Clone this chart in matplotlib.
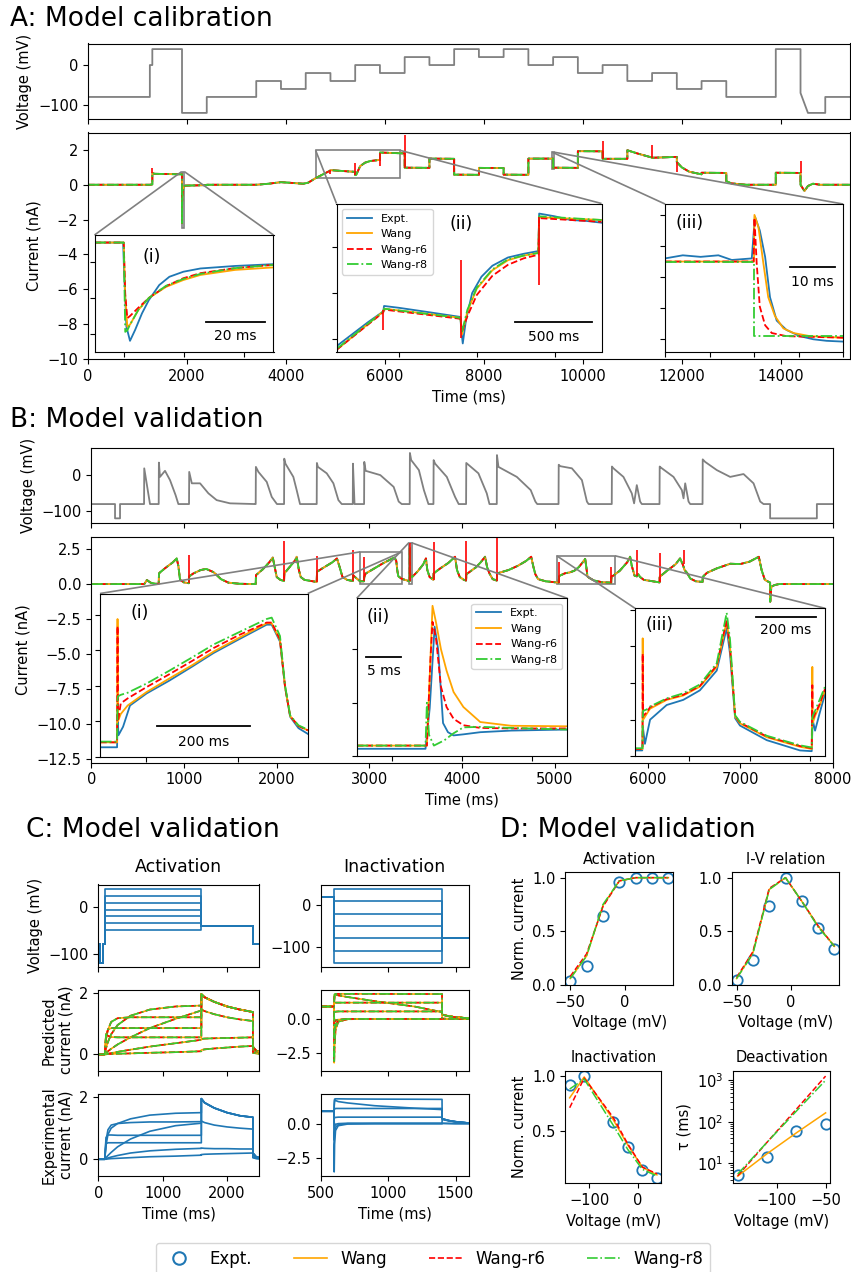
import numpy as np
import matplotlib
matplotlib.use('Agg')
import matplotlib.pyplot as plt
from matplotlib.lines import Line2D
from mpl_toolkits.axes_grid1.inset_locator import mark_inset

plt.rcParams['font.size'] = 10.5
plt.rcParams['font.family'] = ['DejaVu Sans']

W, H = 851, 1272
c_expt, c_wang, c_r6, c_r8, c_volt = '#1f77b4', '#ffa500', '#ff0000', '#33cc33', '#808080'

# ---------------- Panel A data (staircase) ----------------
a_v_edges = [0, 1250, 1300, 1900, 2400, 3400, 3900, 4400, 4900, 5400, 5900, 6400, 6900, 7400,
             7900, 8400, 8900, 9400, 9900, 10400, 10900, 11400, 11900, 12400, 12900, 13900, 14400]
a_v_levels = [-80, 0, 40, -120, -80, -40, -60, -20, -40, 0, -20, 20, 0, 40, 20, 40, 0, 20, -20, 0,
              -40, -20, -60, -40, -80, 40]
a_ramp_t = [14400, 14550, 14900, 14900, 15400]
a_ramp_v = [-70, -120, -120, -80, -80]

a_cur = [(0, 0), (1250, 0), (1300, 0.02), (1300, 0.68), (1340, 0.63), (1900, 0.6), (1900, -2.2),
         (1903, -1.0), (1912, -0.4), (1930, -0.15), (1960, -0.05), (2400, -0.02), (2400, 0), (3400, 0),
         (3650, 0.06), (3900, 0.15), (4150, 0.1), (4350, 0.06), (4450, 0.12), (4600, 0.38), (4900, 0.82),
         (4900, 0.84), (5400, 0.74), (5400, 0.55), (5420, 0.57), (5500, 1.07), (5600, 1.27), (5700, 1.36),
         (5900, 1.43), (5900, 1.85), (6400, 1.8), (6400, 0.98), (6900, 0.97), (6900, 1.5), (7400, 1.49),
         (7400, 0.58), (7900, 0.57), (7900, 0.97), (8400, 0.96), (8400, 0.58), (8900, 0.57), (8900, 1.5),
         (9400, 1.5), (9400, 0.98), (9900, 0.97), (9900, 1.93), (10400, 1.92), (10400, 1.49), (10900, 1.49),
         (10900, 1.98), (11100, 1.8), (11400, 1.56), (11400, 1.55), (11900, 1.6), (11900, 1.3), (12000, 1.0),
         (12150, 0.75), (12400, 0.6), (12400, 0.69), (12900, 0.68), (12900, 0.21), (13000, 0.08),
         (13300, 0.0), (13900, 0.0), (13900, 0.69), (14400, 0.68), (14400, 0.0), (14480, -0.36),
         (14550, -0.07), (14650, 0.06), (14800, 0.0), (15400, 0.0)]
# capacitive spikes of the models: (time, low, high)
a_spikes = [(1300, 0.68, 0.97), (4900, 0.6, 0.84), (5400, 0.55, 1.26), (5900, 1.08, 1.85),
            (6400, 0.98, 2.88), (7400, 0.73, 1.49), (10400, 1.49, 2.5), (11400, 1.55, 2.3),
            (11900, 0.72, 1.3), (14400, 0.68, 1.36)]

# inset (i)
ai1_expt_t = [1890, 1899.6, 1899.9, 1900.7, 1901.9, 1903.6, 1905.9, 1908.2, 1911.7, 1915.1, 1919.8, 1925.5, 1937.1, 1950]
ai1_expt = [0.54, 0.54, -0.22, -1.8, -2.19, -1.89, -1.43, -1.06, -0.64, -0.41, -0.27, -0.18, -0.11, -0.06]
ai1_mod_t = [1890, 1899.8, 1900.3, 1901.0, 1901.9, 1904.7, 1908.2, 1914.0, 1919.8, 1925.5, 1937.1, 1950]
ai1_wang = [0.54, 0.54, -0.96, -1.80, -1.74, -1.33, -1.0, -0.69, -0.5, -0.36, -0.22, -0.15]
ai1_r6 = [0.54, 0.54, -0.9, -1.56, -1.5, -1.27, -1.0, -0.67, -0.45, -0.31, -0.17, -0.08]
ai1_r8 = [0.54, 0.54, -1.94, -1.9, -1.74, -1.33, -1.0, -0.66, -0.47, -0.33, -0.17, -0.08]

# inset (ii)
ai2_expt_t = [4600, 4700, 4800, 4900, 4905, 5000, 5200, 5395, 5400, 5410, 5430, 5470, 5530, 5600, 5700,
              5800, 5895, 5900, 6000, 6100, 6200, 6300]
ai2_expt = [0.42, 0.55, 0.68, 0.80, 0.86, 0.84, 0.79, 0.74, 0.6, 0.45, 0.7, 1.0, 1.18, 1.3, 1.39, 1.43,
            1.46, 1.87, 1.84, 1.8, 1.79, 1.77]
ai2_mod_t = [4600, 4900, 4905, 5395, 5405, 5440, 5500, 5600, 5700, 5800, 5895, 5900, 6300]
ai2_wang = [0.38, 0.80, 0.83, 0.73, 0.55, 0.8, 1.05, 1.25, 1.36, 1.41, 1.44, 1.83, 1.80]
ai2_r6 = [0.38, 0.79, 0.82, 0.72, 0.58, 0.75, 0.98, 1.19, 1.31, 1.38, 1.42, 1.82, 1.78]
ai2_r8 = [0.39, 0.80, 0.83, 0.73, 0.58, 0.82, 1.06, 1.26, 1.37, 1.41, 1.44, 1.84, 1.80]
ai2_spikes = [(4900, 0.6, 0.82), (5400, 0.51, 1.36), (5900, 1.09, 1.83)]

# inset (iii)
ai3_expt_t = [9380, 9384, 9388, 9392, 9395, 9399.5, 9400.2, 9401.3, 9402.5, 9403.6, 9405.1, 9407.3,
              9410.3, 9413.3, 9416.3, 9420]
ai3_expt = [1.52, 1.54, 1.53, 1.54, 1.51, 1.52, 1.79, 1.70, 1.53, 1.27, 1.12, 1.06, 1.02, 1.0, 0.99, 0.985]
ai3_wang_t = [9380, 9400, 9400.1, 9401, 9402.1, 9403.2, 9404.7, 9406.6, 9408.9, 9412.6, 9420]
ai3_wang = [1.5, 1.5, 1.8, 1.72, 1.49, 1.27, 1.15, 1.07, 1.04, 1.02, 1.01]
ai3_r6_t = [9380, 9399.9, 9400.1, 9400.6, 9401.3, 9402.5, 9404, 9407.3, 9420]
ai3_r6 = [1.5, 1.5, 1.78, 1.49, 1.21, 1.09, 1.04, 1.02, 1.01]
ai3_r8_t = [9380, 9400, 9400, 9420]
ai3_r8 = [1.5, 1.5, 1.02, 1.02]

# ---------------- Panel B data (AP waveforms) ----------------
b_volt = [(0, -80), (257, -80), (257, -120), (311, -120), (311, -80), (570, -80), (572, 20), (634, -80),
          (728, -80), (730, 36), (742, -4), (796, 13), (850, -13), (910, -55), (940, -80),
          (1055, -80), (1057, 10), (1085, -22), (1174, -22), (1264, -50), (1353, -69), (1497, -78), (1767, -80),
          (1774, -80), (1776, 24), (1803, 10), (1893, -18), (1947, -60), (2003, -80),
          (2080, -80), (2082, 47), (2095, 33), (2180, -4), (2216, -41), (2252, -80),
          (2432, -80), (2434, 35), (2445, 24), (2540, 6), (2612, -22), (2666, -69), (2702, -80),
          (2821, -80), (2823, 33), (2840, -80),
          (2943, -80), (2945, 38), (2960, 13), (3118, 1), (3262, -32), (3316, -73), (3349, -80),
          (3435, -80), (3437, 63), (3451, 43), (3534, 15), (3588, -41), (3637, -80),
          (3691, -80), (3693, 43), (3709, 33), (3835, -4), (3924, -60), (3963, -80),
          (4043, -80), (4045, 35), (4176, 6), (4266, -50), (4295, -80),
          (4374, -80), (4376, 57), (4392, 24), (4590, -4), (4740, -41), (4790, -73), (4810, -80),
          (5040, -80), (5042, 30), (5058, 26), (5184, 20), (5292, -13), (5346, -73), (5364, -80),
          (5614, -80), (5616, 25), (5632, 20), (5740, -4), (5830, -50), (5855, -78), (5884, -27), (5920, -73), (5938, -80),
          (6129, -80), (6131, 25), (6144, 22), (6280, -4), (6370, -41), (6388, -64), (6406, -22), (6442, -73), (6460, -80),
          (6593, -80), (6595, 45), (6621, 38), (6747, 15), (6891, -4), (7035, 4), (7143, -22), (7215, -73), (7251, -80),
          (7322, -80), (7322, -120), (7826, -120), (7826, -80), (8000, -80)]

b_cur = [(0, 0), (570, 0), (578, 0.05), (600, 0.29), (640, 0.1), (690, 0.02), (728, 0.02), (731, 0.76),
         (745, 0.85), (800, 1.15), (880, 1.55), (922, 1.83), (940, 1.3), (958, 0.3), (1000, 0.12), (1054, 0.06),
         (1057, 0.55), (1100, 0.75), (1180, 1.0), (1240, 1.08), (1320, 0.85), (1400, 0.35), (1480, 0.1),
         (1600, 0.02), (1774, 0.0), (1777, 0.64), (1850, 1.05), (1920, 1.55), (1958, 1.9), (1980, 1.2),
         (2001, 0.5), (2040, 0.3), (2080, 0.22), (2083, 0.76), (2150, 1.3), (2200, 1.7), (2216, 1.95),
         (2240, 1.0), (2260, 0.5), (2300, 0.3), (2432, 0.15), (2435, 0.88), (2500, 1.15), (2600, 1.55),
         (2650, 1.83), (2680, 1.2), (2710, 0.5), (2760, 0.3), (2821, 0.22), (2824, 0.64), (2845, 0.5),
         (2900, 0.2), (2942, 0.2), (2945, 0.5), (2960, 0.75), (3001, 0.91), (3146, 1.48), (3261, 1.87),
         (3272, 1.89), (3290, 1.65), (3301, 0.98), (3312, 0.56), (3350, 0.37), (3434, 0.2), (3436, 2.6),
         (3438, 0.9), (3443, 0.55), (3460, 0.5), (3520, 0.9), (3580, 1.4), (3610, 1.83), (3625, 1.0),
         (3650, 0.5), (3690, 0.3), (3693, 0.76), (3760, 1.1), (3850, 1.5), (3924, 1.95), (3945, 1.0),
         (3975, 0.5), (4020, 0.3), (4043, 0.25), (4046, 0.7), (4150, 1.2), (4200, 1.55), (4248, 1.95),
         (4270, 1.2), (4295, 0.76), (4330, 0.35), (4374, 0.25), (4377, 0.76), (4500, 1.0), (4600, 1.3),
         (4690, 1.65), (4745, 1.95), (4770, 1.2), (4790, 0.7), (4820, 0.35), (4900, 0.2), (5040, 0.1),
         (5046, 0.55), (5060, 0.62), (5110, 0.77), (5160, 0.83), (5210, 0.95), (5260, 1.22), (5300, 1.55),
         (5327, 1.8), (5340, 1.2), (5352, 0.54), (5370, 0.45), (5420, 0.26), (5510, 0.13), (5608, 0.1),
         (5612, 0.55), (5630, 0.6), (5700, 0.95), (5780, 1.55), (5812, 1.95), (5830, 1.3), (5860, 0.6),
         (5885, 0.55), (5900, 0.7), (5920, 0.5), (5960, 0.3), (6129, 0.12), (6131, 0.52), (6200, 0.9),
         (6300, 1.4), (6351, 1.83), (6380, 1.4), (6400, 1.0), (6430, 0.76), (6460, 0.4), (6520, 0.2),
         (6593, 0.15), (6596, 0.52), (6640, 0.8), (6747, 1.12), (6891, 1.45), (7000, 1.43), (7100, 1.6),
         (7170, 1.85), (7200, 1.95), (7230, 1.0), (7265, 0.3), (7322, 0.1), (7323, -1.26), (7335, -0.19),
         (7370, -0.07), (7420, 0.0), (8000, 0.0)]
b_spikes = [(1056, 0.06, 2.07), (2082, 0.22, 3.1), (2434, 0.15, 2.0), (2823, 0.22, 2.4), (2943, 0.2, 1.94),
            (3436, 0.2, 2.95), (3692, 0.3, 3.0), (4045, 0.25, 3.1), (4376, 0.25, 3.3), (5045, 0.1, 1.6),
            (5610, 0.1, 1.2), (5885, 0.55, 2.4), (6130, 0.12, 2.2), (6388, 1.4, 2.4)]

bi1_expt_t = [2900, 2937, 2938, 2940, 2950, 2965, 3001, 3050, 3100, 3146, 3200, 3261, 3272, 3290, 3301, 3312, 3330, 3350]
bi1_expt = [0.13, 0.13, 0.6, 0.3, 0.42, 0.72, 0.89, 1.07, 1.27, 1.46, 1.65, 1.86, 1.86, 1.62, 0.98, 0.56, 0.4, 0.32]
bi1_mod_t = [2900, 2937, 2938, 2939, 2945, 2960, 3001, 3050, 3100, 3146, 3200, 3261, 3272, 3290, 3301, 3312, 3330, 3350]
bi1_wang = [0.2, 0.2, 1.94, 0.5, 0.6, 0.72, 0.91, 1.10, 1.29, 1.48, 1.67, 1.88, 1.88, 1.64, 0.98, 0.57, 0.43, 0.37]
bi1_r6 = [0.2, 0.2, 1.84, 0.5, 0.75, 0.82, 0.98, 1.16, 1.35, 1.53, 1.71, 1.89, 1.89, 1.65, 0.98, 0.57, 0.43, 0.37]
bi1_r8 = [0.21, 0.21, 0.8, 0.85, 0.87, 0.9, 1.03, 1.21, 1.40, 1.58, 1.75, 1.94, 1.96, 1.7, 1.0, 0.58, 0.44, 0.38]

bi2_expt_t = [3425, 3434.8, 3435.4, 3436.1, 3436.6, 3437.3, 3438, 3438.8, 3440.2, 3442.6, 3447, 3455]
bi2_expt = [0.14, 0.14, 0.9, 2.42, 2.0, 0.62, 0.45, 0.39, 0.41, 0.45, 0.48, 0.5]
bi2_mod_t = [3425, 3435.0, 3435.5, 3435.8, 3436.3, 3437, 3437.8, 3438.8, 3440.2, 3442.6, 3447, 3455]
bi2_wang = [0.2, 0.2, 1.8, 2.81, 2.5, 2.0, 1.6, 1.2, 0.92, 0.64, 0.57, 0.56]
bi2_r6 = [0.2, 0.2, 1.8, 2.51, 2.2, 1.3, 0.92, 0.7, 0.58, 0.53, 0.52, 0.52]
bi2_r8_t = [3425, 3434.8, 3435.0, 3435.3, 3436.0, 3437.5, 3438.8, 3440.2, 3442.6, 3447, 3455]
bi2_r8 = [0.2, 0.2, 1.0, 0.4, 0.2, 0.3, 0.43, 0.54, 0.55, 0.53, 0.5]

bi3_expt_t = [5020, 5044, 5046, 5053, 5070, 5125, 5180, 5235, 5291, 5324, 5335, 5352, 5368, 5457, 5567,
              5606, 5609, 5617, 5633, 5650]
bi3_expt = [0.08, 0.08, 0.4, 0.17, 0.5, 0.7, 0.77, 0.9, 1.17, 1.75, 1.4, 0.52, 0.42, 0.22, 0.08, 0.07,
            0.5, 0.35, 0.6, 0.85]
bi3_mod_t = [5020, 5045, 5045.5, 5047, 5059, 5070, 5125, 5180, 5235, 5291, 5324, 5335, 5352, 5368, 5457,
             5567, 5606, 5608, 5609, 5617, 5633, 5650]
bi3_wang = [0.1, 0.1, 1.61, 0.5, 0.58, 0.65, 0.77, 0.83, 0.95, 1.22, 1.84, 1.5, 0.54, 0.45, 0.26, 0.13,
            0.1, 1.22, 0.45, 0.55, 0.7, 0.9]
bi3_r6 = [0.1, 0.1, 1.4, 0.55, 0.6, 0.67, 0.78, 0.84, 0.96, 1.24, 1.86, 1.5, 0.55, 0.46, 0.27, 0.14,
          0.11, 0.97, 0.5, 0.58, 0.72, 0.92]
bi3_r8 = [0.11, 0.11, 0.5, 0.62, 0.64, 0.68, 0.79, 0.86, 0.98, 1.27, 1.96, 1.6, 0.56, 0.47, 0.28, 0.15,
          0.12, 0.5, 0.55, 0.62, 0.78, 0.95]

# ---------------- Panel C data ----------------
c_act_v = [-50, -35, -20, -5, 10, 25, 40]
c_act_edges = [0, 25, 75, 100, 1600, 2400, 2500]
c_act_t = [0, 100, 120, 150, 200, 300, 500, 800, 1200, 1600]
c_tail_t = [1600, 1650, 1800, 2000, 2200, 2400]
c_end_t = [2400, 2450, 2500]
pred_step = [[0, 0, 0.0, 0.01, 0.01, 0.02, 0.03, 0.05, 0.07, 0.1],
             [0, 0, 0.01, 0.02, 0.04, 0.08, 0.15, 0.25, 0.36, 0.47],
             [0, 0, 0.05, 0.1, 0.18, 0.32, 0.55, 0.85, 1.15, 1.42],
             [0, 0, 0.2, 0.4, 0.65, 0.95, 1.25, 1.45, 1.55, 1.58],
             [0, 0, 0.5, 0.8, 1.05, 1.17, 1.2, 1.2, 1.2, 1.2],
             [0, 0, 0.6, 0.8, 0.85, 0.85, 0.85, 0.85, 0.85, 0.85],
             [0, 0, 0.65, 0.6, 0.56, 0.55, 0.55, 0.55, 0.55, 0.55]]
pred_tail = [[0.14, 0.16, 0.19, 0.22, 0.25, 0.27],
             [0.5, 0.51, 0.52, 0.53, 0.54, 0.55],
             [1.45, 1.4, 1.3, 1.2, 1.13, 1.08],
             [1.95, 1.85, 1.7, 1.55, 1.45, 1.37],
             [1.95, 1.85, 1.7, 1.55, 1.45, 1.37],
             [1.95, 1.85, 1.7, 1.55, 1.45, 1.37],
             [1.95, 1.85, 1.7, 1.55, 1.45, 1.37]]
pred_end = [[0.05, 0.03, 0.02], [0.08, 0.05, 0.03], [0.2, 0.1, 0.06], [0.25, 0.12, 0.08],
            [0.25, 0.12, 0.08], [0.25, 0.12, 0.08], [0.25, 0.12, 0.08]]
expt_step = [[0, 0, 0.0, 0.01, 0.02, 0.03, 0.05, 0.08, 0.1, 0.13],
             [0, 0, 0.02, 0.04, 0.07, 0.12, 0.2, 0.27, 0.32, 0.35],
             [0, 0, 0.05, 0.12, 0.22, 0.4, 0.65, 0.9, 1.08, 1.16],
             [0, 0, 0.45, 0.8, 1.0, 1.15, 1.3, 1.42, 1.48, 1.5],
             [0, 0, 0.6, 0.95, 1.1, 1.15, 1.18, 1.2, 1.2, 1.21],
             [0, 0, 0.7, 0.78, 0.78, 0.77, 0.77, 0.77, 0.77, 0.77],
             [0, 0, 0.5, 0.53, 0.53, 0.53, 0.53, 0.53, 0.53, 0.53]]
expt_tail = [[0.15, 0.16, 0.17, 0.18, 0.19, 0.2],
             [0.36, 0.35, 0.34, 0.34, 0.33, 0.33],
             [1.23, 1.18, 1.1, 1.04, 1.0, 0.97],
             [1.95, 1.82, 1.65, 1.5, 1.4, 1.35],
             [1.95, 1.82, 1.65, 1.5, 1.4, 1.35],
             [1.95, 1.82, 1.65, 1.5, 1.4, 1.35],
             [1.95, 1.82, 1.65, 1.5, 1.4, 1.35]]
expt_end = [[0.05, 0.02, 0.01], [0.06, 0.03, 0.02], [0.15, 0.06, 0.04], [0.2, 0.08, 0.05],
            [0.2, 0.08, 0.05], [0.2, 0.08, 0.05], [0.2, 0.08, 0.05]]

c_in_v = [-140, -110, -80, -50, -20, 10, 40]
c_in_edges = [500, 600, 1400, 1600]
c_in_t = [500, 599, 600, 603, 610, 630, 700, 900, 1200, 1400]
c_in_tail_t = [1400, 1401, 1450, 1500, 1600]
pred_in = [[0.9, 0.9, -3.2, -2.0, -0.8, -0.2, -0.02, 0, 0, 0],
           [0.9, 0.9, -1.5, -0.9, -0.4, -0.1, 0, 0, 0, 0],
           [0.9, 0.9, 1.2, 1.75, 1.78, 1.72, 1.6, 1.3, 0.9, 0.5],
           [0.9, 0.9, 1.4, 1.8, 1.83, 1.83, 1.83, 1.83, 1.82, 1.82],
           [0.9, 0.9, 1.1, 1.15, 1.19, 1.19, 1.19, 1.19, 1.19, 1.19],
           [0.9, 0.9, 0.6, 0.5, 0.53, 0.55, 0.55, 0.55, 0.55, 0.55],
           [0.9, 0.9, 0.1, -0.2, -0.1, -0.05, 0, 0, 0, 0]]
pred_in_tail = [[0, 0.02, 0.01, 0.0, 0.0], [0, 0.02, 0.01, 0.0, 0.0], [0.5, 0.32, 0.2, 0.13, 0.05],
                [1.82, 0.32, 0.2, 0.13, 0.05], [1.19, 0.32, 0.2, 0.13, 0.05], [0.55, 0.32, 0.2, 0.13, 0.05],
                [0, 0.3, 0.2, 0.13, 0.05]]
expt_in = [[0.9, 0.9, -3.5, -1.5, -0.5, -0.15, -0.03, 0, 0, 0],
           [0.9, 0.9, -1.2, -0.6, -0.25, -0.08, 0, 0, 0, 0],
           [0.9, 0.9, 1.2, 1.7, 1.68, 1.6, 1.5, 1.3, 1.12, 1.02],
           [0.9, 0.9, 1.4, 1.78, 1.8, 1.8, 1.79, 1.78, 1.77, 1.76],
           [0.9, 0.9, 1.0, 1.05, 1.1, 1.1, 1.1, 1.1, 1.1, 1.1],
           [0.9, 0.9, 0.5, 0.42, 0.45, 0.47, 0.47, 0.47, 0.47, 0.47],
           [0.9, 0.9, 0.1, -0.15, -0.05, 0.0, 0.03, 0.03, 0.03, 0.03]]
expt_in_tail = [[0, 0.02, 0.01, 0.0, 0.0], [0, 0.02, 0.01, 0.0, 0.0], [1.02, 0.35, 0.22, 0.14, 0.04],
                [1.76, 0.35, 0.22, 0.14, 0.04], [1.1, 0.35, 0.22, 0.14, 0.04], [0.47, 0.35, 0.22, 0.14, 0.04],
                [0.03, 0.3, 0.2, 0.13, 0.04]]

# ---------------- Panel D data ----------------
d_act_v = [-50, -35, -20, -5, 10, 25, 40]
d_act_expt = [0.04, 0.18, 0.64, 0.96, 1.0, 1.0, 1.0]
d_act_wang = [0.06, 0.27, 0.74, 0.97, 1.0, 1.0, 1.0]
d_act_r6 = [0.08, 0.29, 0.73, 0.97, 1.0, 1.0, 1.0]
d_act_r8 = [0.06, 0.27, 0.75, 0.97, 1.0, 1.0, 1.0]
d_iv_expt = [0.05, 0.23, 0.74, 1.0, 0.78, 0.53, 0.34]
d_iv_wang = [0.06, 0.3, 0.89, 1.0, 0.78, 0.55, 0.36]
d_iv_r6 = [0.07, 0.31, 0.9, 1.0, 0.78, 0.55, 0.36]
d_iv_r8 = [0.06, 0.29, 0.89, 1.0, 0.78, 0.54, 0.36]
d_in_v = [-140, -110, -50, -20, 10, 40]
d_in_expt = [0.92, 1.0, 0.58, 0.35, 0.14, 0.07]
d_in_wang = [0.8, 0.99, 0.6, 0.37, 0.17, 0.1]
d_in_r6 = [0.71, 0.98, 0.62, 0.38, 0.17, 0.11]
d_in_r8 = [0.88, 0.97, 0.55, 0.33, 0.15, 0.09]
d_de_v = [-140, -110, -80, -50]
d_de_expt = [5.2, 14.5, 60, 88]
d_de_wang = [4.9, 17, 54, 164]
d_de_r6 = [5.0, 32, 200, 1260]
d_de_r8 = [5.5, 32, 180, 1000]


fig = plt.figure(figsize=(W / 100, H / 100), dpi=100)


def add_ax(l, t, r, b):
    return fig.add_axes([l / W, 1 - b / H, (r - l) / W, (b - t) / H])


def steps(edges, levels):
    return np.repeat(edges, 2)[1:-1], np.repeat(levels, 2)


def four(ax, te, ye, tw, yw, t6, y6, t8, y8, lw=1.3, labels=False):
    ax.plot(te, ye, color=c_expt, lw=lw, label='Expt.' if labels else None)
    ax.plot(tw, yw, color=c_wang, lw=lw, label='Wang' if labels else None)
    ax.plot(t6, y6, color=c_r6, lw=lw, ls='--', label='Wang-r6' if labels else None)
    ax.plot(t8, y8, color=c_r8, lw=lw, ls='-.', label='Wang-r8' if labels else None)


def inset_deco(ax, label, lx, ly, bx, blen, by, btxt, ty):
    ax.tick_params(labelbottom=False, labelleft=False)
    ax.text(lx, ly, label, transform=ax.transAxes, fontsize=12.5, ha='center', va='center')
    tr = ax.get_xaxis_transform()
    ax.plot([bx, bx + blen], [by, by], color='k', lw=1.3, transform=tr)
    ax.text(bx + blen / 2, ty, btxt, transform=tr, ha='center', va='center', fontsize=10)


# ================= Panel A =================
fig.text(10 / W, 1 - 6 / H, 'A: Model calibration', fontsize=19, va='top', ha='left')
ax = add_ax(88, 43.5, 850, 118.5)
vx, vy = steps(a_v_edges, a_v_levels)
ax.plot(np.concatenate([vx, a_ramp_t]), np.concatenate([vy, a_ramp_v]), color=c_volt, lw=1.3)
ax.set_xlim(0, 15400)
ax.set_ylim(-134, 54)
ax.set_yticks([-100, 0])
ax.tick_params(labelbottom=False)
ax.set_ylabel('Voltage (mV)')

axa = add_ax(88, 132.5, 850, 359)
at, ai = zip(*a_cur)
four(axa, at, ai, at, ai, at, ai, at, ai, lw=1.3)
st, slo, shi = zip(*a_spikes)
axa.vlines(st, slo, shi, color=c_r6, lw=1.2)
axa.set_xlim(0, 15400)
axa.set_ylim(-10, 3.0)
axa.set_xlabel('Time (ms)')
axa.set_ylabel('Current (nA)')

ins = add_ax(94.5, 235, 273.5, 352)
four(ins, ai1_expt_t, ai1_expt, ai1_mod_t, ai1_wang, ai1_mod_t, ai1_r6, ai1_mod_t, ai1_r8)
ins.set_xlim(1890, 1950)
ins.set_ylim(-2.5, 0.75)
inset_deco(ins, '(i)', 0.32, 0.81, 1927.3, 20, 0.26, '20 ms', 0.14)
mark_inset(axa, ins, loc1=2, loc2=1, fc='none', ec='0.5', lw=1.2)

ins = add_ax(336.5, 203.5, 601.5, 351.7)
four(ins, ai2_expt_t, ai2_expt, ai2_mod_t, ai2_wang, ai2_mod_t, ai2_r6, ai2_mod_t, ai2_r8, labels=True)
st, slo, shi = zip(*ai2_spikes)
ins.vlines(st, slo, shi, color=c_r6, lw=1.2)
ins.set_xlim(4600, 6300)
ins.set_ylim(0.36, 1.98)
inset_deco(ins, '(ii)', 0.47, 0.86, 5742, 500, 0.2, '500 ms', 0.1)
ins.legend(loc='upper left', fontsize=8, handlelength=2.3)
mark_inset(axa, ins, loc1=2, loc2=1, fc='none', ec='0.5', lw=1.2)

ins = add_ax(665, 204, 843, 351.7)
four(ins, ai3_expt_t, ai3_expt, ai3_wang_t, ai3_wang, ai3_r6_t, ai3_r6, ai3_r8_t, ai3_r8)
ins.set_xlim(9380, 9420)
ins.set_ylim(0.92, 1.87)
inset_deco(ins, '(iii)', 0.14, 0.87, 9408.2, 10, 0.575, '10 ms', 0.47)
mark_inset(axa, ins, loc1=2, loc2=1, fc='none', ec='0.5', lw=1.2)

# ================= Panel B =================
fig.text(10 / W, 1 - 407 / H, 'B: Model validation', fontsize=19, va='top', ha='left')
ax = add_ax(91.2, 448.3, 833, 523)
bt, bv = zip(*b_volt)
ax.plot(bt, bv, color=c_volt, lw=1.3)
ax.set_xlim(0, 8000)
ax.set_ylim(-133, 76)
ax.set_yticks([-100, 0])
ax.tick_params(labelbottom=False)
ax.set_ylabel('Voltage (mV)')

axb = add_ax(91.2, 537.3, 833, 762.7)
bt, bi = zip(*b_cur)
four(axb, bt, bi, bt, bi, bt, bi, bt, bi)
st, slo, shi = zip(*b_spikes)
axb.vlines(st, slo, shi, color=c_r6, lw=1.2)
axb.set_xlim(0, 8000)
axb.set_ylim(-12.76, 3.34)
axb.set_yticks(np.arange(-12.5, 3.0, 2.5))
axb.set_xlabel('Time (ms)')
axb.set_ylabel('Current (nA)')

ins = add_ax(100, 593.5, 307.7, 756.5)
four(ins, bi1_expt_t, bi1_expt, bi1_mod_t, bi1_wang, bi1_mod_t, bi1_r6, bi1_mod_t, bi1_r8)
ins.set_xlim(2900, 3350)
ins.set_ylim(0, 2.3)
inset_deco(ins, '(i)', 0.19, 0.88, 3024, 200, 0.19, '200 ms', 0.09)
mark_inset(axb, ins, loc1=2, loc2=1, fc='none', ec='0.5', lw=1.2)

ins = add_ax(356.7, 598.3, 567.3, 756.3)
four(ins, bi2_expt_t, bi2_expt, bi2_mod_t, bi2_wang, bi2_mod_t, bi2_r6, bi2_r8_t, bi2_r8, labels=True)
ins.set_xlim(3425, 3455)
ins.set_ylim(0, 2.95)
inset_deco(ins, '(ii)', 0.1, 0.88, 3426.3, 5, 0.626, '5 ms', 0.54)
ins.legend(loc='upper right', fontsize=8, handlelength=2.3)
mark_inset(axb, ins, loc1=2, loc2=1, fc='none', ec='0.5', lw=1.2)

ins = add_ax(635, 608.3, 825, 756.3)
four(ins, bi3_expt_t, bi3_expt, bi3_mod_t, bi3_wang, bi3_mod_t, bi3_r6, bi3_mod_t, bi3_r8)
ins.set_xlim(5020, 5650)
ins.set_ylim(0, 2.02)
inset_deco(ins, '(iii)', 0.13, 0.89, 5421, 200, 0.94, '200 ms', 0.85)
mark_inset(axb, ins, loc1=2, loc2=1, fc='none', ec='0.5', lw=1.2)

# ================= Panel C =================
fig.text(26 / W, 1 - 817 / H, 'C: Model validation', fontsize=19, va='top', ha='left')
rows = [(884.5, 967), (989.5, 1071), (1094, 1176)]
cols = [(98.3, 259.3), (320.7, 469)]
fig.text((cols[0][0] + cols[0][1]) / 2 / W, 1 - 866.5 / H, 'Activation', fontsize=12.5, ha='center', va='center')
fig.text((cols[1][0] + cols[1][1]) / 2 / W, 1 - 866.5 / H, 'Inactivation', fontsize=12.5, ha='center', va='center')

ca = [add_ax(cols[0][0], r[0], cols[0][1], r[1]) for r in rows]
ci = [add_ax(cols[1][0], r[0], cols[1][1], r[1]) for r in rows]

for k, v in enumerate(c_act_v):
    x, y = steps(c_act_edges, [-80, -120, -80, v, -40, -80])
    ca[0].plot(x, y, color=c_expt, lw=1.2)
    tt = c_act_t + c_tail_t + c_end_t
    yp = pred_step[k] + pred_tail[k] + pred_end[k]
    ye = expt_step[k] + expt_tail[k] + expt_end[k]
    ca[1].plot(tt, yp, color=c_wang, lw=1.2)
    ca[1].plot(tt, yp, color=c_r6, lw=1.2, ls='--')
    ca[1].plot(tt, yp, color=c_r8, lw=1.2, ls='-.')
    ca[2].plot(tt, ye, color=c_expt, lw=1.2)

for k, v in enumerate(c_in_v):
    x, y = steps(c_in_edges, [20, v, -80])
    ci[0].plot(x, y, color=c_expt, lw=1.2)
    tt = c_in_t + c_in_tail_t
    yp = pred_in[k] + pred_in_tail[k]
    ye = expt_in[k] + expt_in_tail[k]
    ci[1].plot(tt, yp, color=c_wang, lw=1.2)
    ci[1].plot(tt, yp, color=c_r6, lw=1.2, ls='--')
    ci[1].plot(tt, yp, color=c_r8, lw=1.2, ls='-.')
    ci[2].plot(tt, ye, color=c_expt, lw=1.2)

for a in ca:
    a.set_xlim(0, 2500)
    a.set_xticks([0, 1000, 2000])
for a in ci:
    a.set_xlim(500, 1600)
    a.set_xticks([500, 1000, 1500])
ca[0].set_ylim(-129, 49)
ci[0].set_ylim(-149, 50)
for a in (ca[0], ci[0]):
    a.set_yticks([-100, 0])
for a in (ca[1], ca[2]):
    a.set_ylim(-0.54, 2.1)
    a.set_yticks([0, 2])
for a in (ci[1], ci[2]):
    a.set_ylim(-3.8, 2.15)
    a.set_yticks([-2.5, 0.0])
for a in ca[:2] + ci[:2]:
    a.tick_params(labelbottom=False)
ca[0].set_ylabel('Voltage (mV)')
ca[1].set_ylabel('Predicted\ncurrent (nA)')
ca[2].set_ylabel('Experimental\ncurrent (nA)')
ca[2].set_xlabel('Time (ms)')
ci[2].set_xlabel('Time (ms)')

# ================= Panel D =================
fig.text(500 / W, 1 - 817 / H, 'D: Model validation', fontsize=19, va='top', ha='left')
d1 = add_ax(565.3, 872.3, 673.3, 985)
d2 = add_ax(731.7, 872.3, 839.3, 985)
d3 = add_ax(565.3, 1070.7, 661.3, 1183.3)
d4 = add_ax(733.3, 1070.7, 830, 1183.3)


def dplot(ax, v, e, w, r6, r8):
    ax.plot(v, e, 'o', mfc='none', mec=c_expt, ms=7.5, mew=1.3)
    ax.plot(v, w, color=c_wang, lw=1.1)
    ax.plot(v, r6, color=c_r6, lw=1.1, ls='--')
    ax.plot(v, r8, color=c_r8, lw=1.1, ls='-.')


dplot(d1, d_act_v, d_act_expt, d_act_wang, d_act_r6, d_act_r8)
dplot(d2, d_act_v, d_iv_expt, d_iv_wang, d_iv_r6, d_iv_r8)
dplot(d3, d_in_v, d_in_expt, d_in_wang, d_in_r6, d_in_r8)
dplot(d4, d_de_v, d_de_expt, d_de_wang, d_de_r6, d_de_r8)
for a in (d1, d2):
    a.set_ylim(0, 1.05)
    a.set_yticks([0, 0.5, 1.0])
    a.set_xticks([-50, 0])
d3.set_yticks([0.5, 1.0])
d3.set_xticks([-100, 0])
d4.set_yscale('log')
d4.set_ylim(3.3, 1700)
d4.set_xticks([-100, -50])
d1.set_title('Activation', fontsize=10.5)
d2.set_title('I-V relation', fontsize=10.5)
d3.set_title('Inactivation', fontsize=10.5)
d4.set_title('Deactivation', fontsize=10.5)
for a in (d1, d2, d3, d4):
    a.set_xlabel('Voltage (mV)')
d1.set_ylabel('Norm. current')
d3.set_ylabel('Norm. current')
d4.set_ylabel('τ (ms)')

handles = [Line2D([], [], marker='o', ls='none', mfc='none', mec=c_expt, ms=9, mew=1.5),
           Line2D([], [], color=c_wang, lw=1.2),
           Line2D([], [], color=c_r6, lw=1.2, ls='--'),
           Line2D([], [], color=c_r8, lw=1.2, ls='-.')]
fig.legend(handles, ['Expt.', 'Wang', 'Wang-r6', 'Wang-r8'], loc='upper center',
           bbox_to_anchor=(433 / W, 1 - 1243 / H), ncol=4, fontsize=12, columnspacing=2.5,
           borderaxespad=0)

fig.savefig('out.png', dpi=100)
